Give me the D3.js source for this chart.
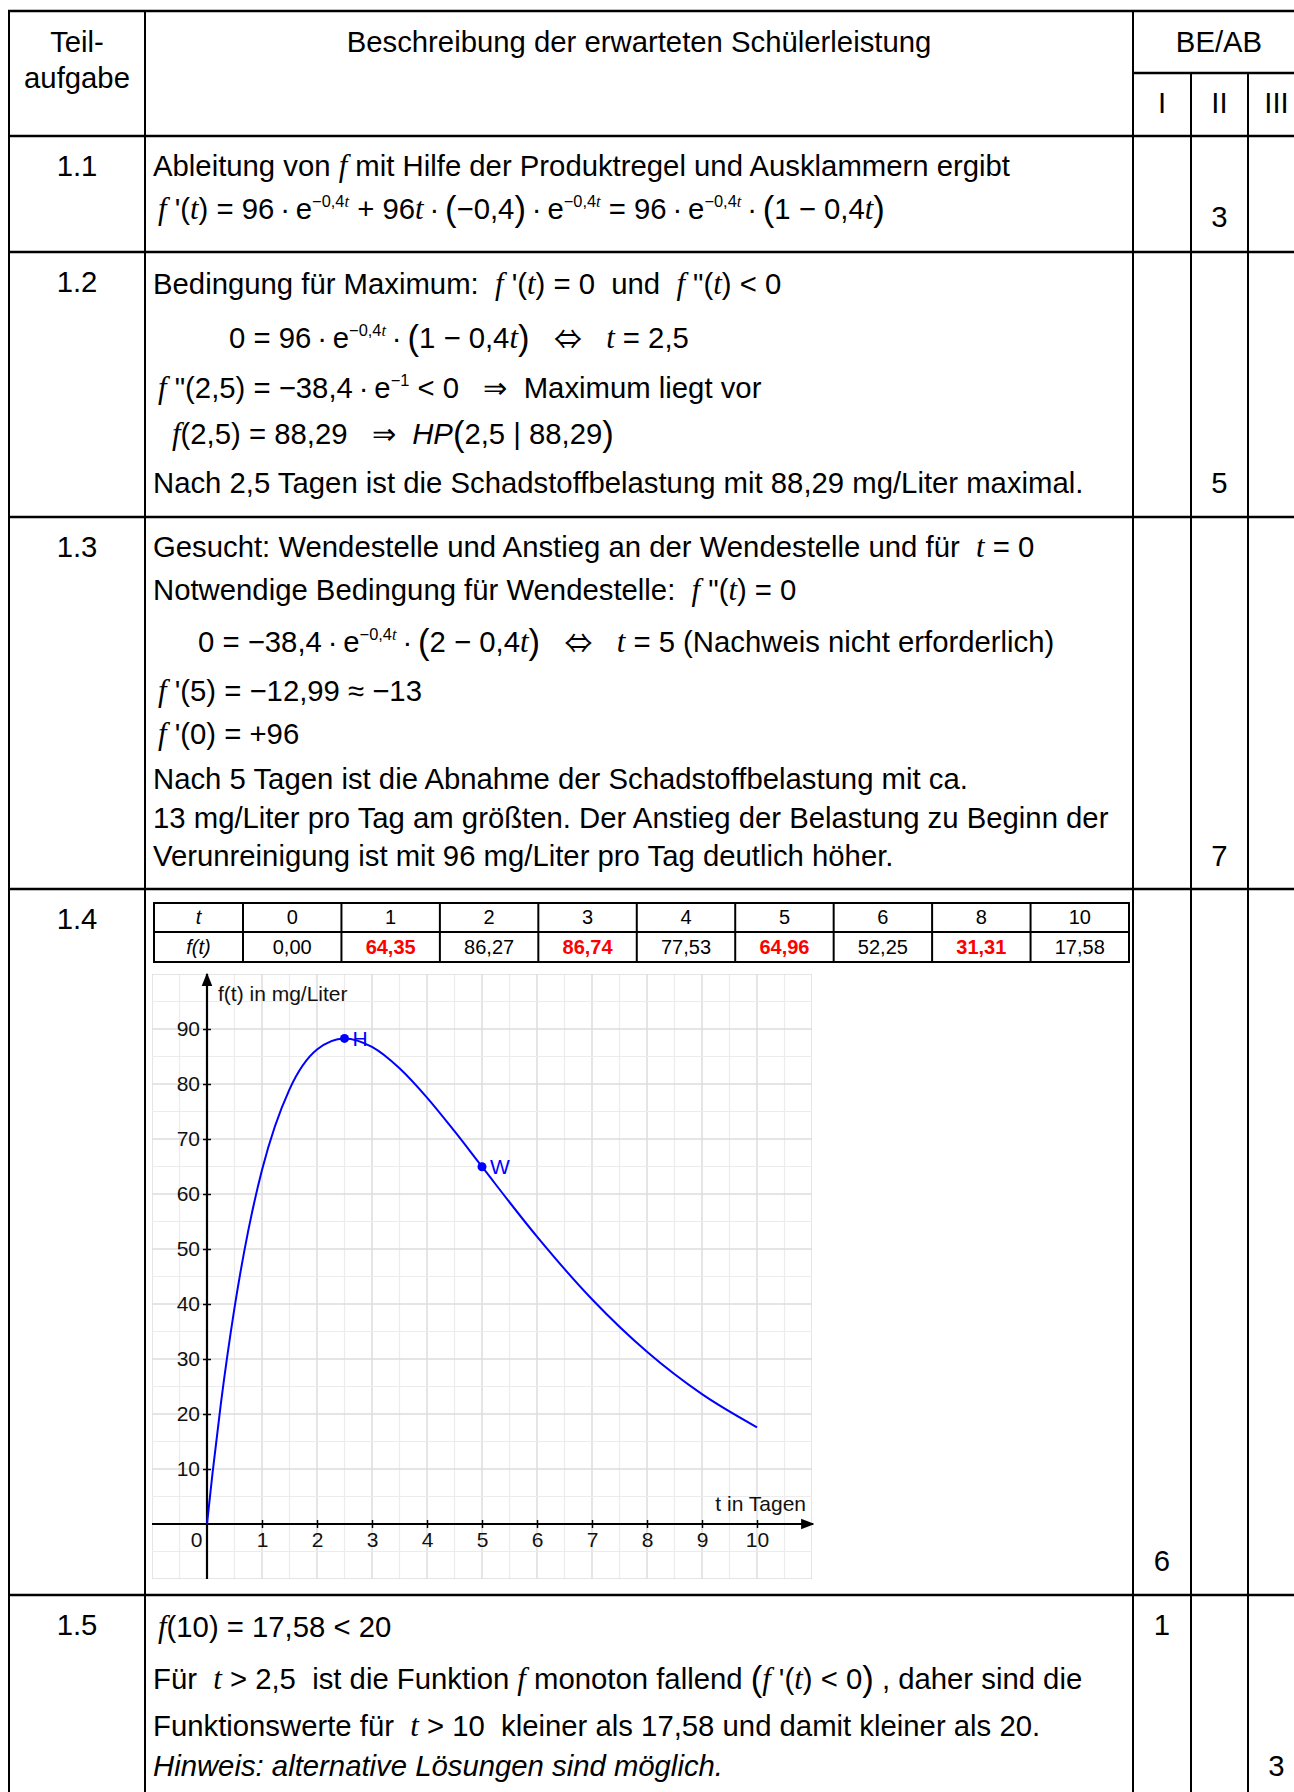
<!DOCTYPE html>
<html>
<head>
<meta charset="utf-8">
<script src="https://cdn.jsdelivr.net/npm/d3@7"></script>
<style>
  body { margin: 0; background: #fff; }
  svg { display: block; }
  text { font-family: "Liberation Sans", Arial, sans-serif; white-space: pre; }
</style>
</head>
<body>
<div id="page"></div>
<script>
// ---- data ----
const rowLabels = ["1.1", "1.2", "1.3", "1.4", "1.5"];
const levels = ["I", "II", "III"];
// BE points: [row, level index, value]
const points = [["1.1", 1, "3"], ["1.2", 1, "5"], ["1.3", 1, "7"], ["1.4", 0, "6"], ["1.5", 0, "1"], ["1.5", 2, "3"]];

// value table of row 1.4
const tableT = ["0", "1", "2", "3", "4", "5", "6", "8", "10"];
const tableF = ["0,00", "64,35", "86,27", "86,74", "77,53", "64,96", "52,25", "31,31", "17,58"];
const tableRed = [false, true, false, true, false, true, false, true, false];

// curve f(t) in mg/Liter
const curveT = [0, 0.1, 0.25, 0.5, 0.75, 1, 1.5, 2, 2.5, 3, 3.5, 4, 4.5, 5, 6, 7, 8, 9, 10];
const curveF = [0, 9.22, 21.72, 39.30, 53.34, 64.35, 79.03, 86.27, 88.29, 86.74, 82.86, 77.53, 71.41, 64.96, 52.25, 40.86, 31.31, 23.61, 17.58];
const specialNames = ["H", "W"];
const specialT = [2.5, 5];
const specialF = [88.29, 64.96];
const xTicks = [0, 1, 2, 3, 4, 5, 6, 7, 8, 9, 10];
const yTicks = [10, 20, 30, 40, 50, 60, 70, 80, 90];

// ---- text content (segments: [text, style]) ----
// styles: v = math variable, s = superscript, sv = superscript variable, p = big paren, I = italic, a = arrow
const D = "\u2009·\u2009";
const rowText = {
  "1.1": [
    [["Ableitung von "], ["f", "v"], [" mit Hilfe der Produktregel und Ausklammern ergibt"]],
    [["f", "v"], [" '("], ["t", "v"], [") = 96" + D + "e"], ["−0,4", "s"], ["t", "sv"], [" + 96"], ["t", "v"], [D], ["(", "p"], ["−0,4"], [")", "p"],
     [D + "e"], ["−0,4", "s"], ["t", "sv"], [" = 96" + D + "e"], ["−0,4", "s"], ["t", "sv"], [D], ["(", "p"], ["1 − 0,4"], ["t", "v"], [")", "p"]]
  ],
  "1.2": [
    [["Bedingung für Maximum:  "], ["f", "v"], [" '("], ["t", "v"], [") = 0  und  "], ["f", "v"], [" \"("], ["t", "v"], [") < 0"]],
    [["0 = 96" + D + "e"], ["−0,4", "s"], ["t", "sv"], [D], ["(", "p"], ["1 − 0,4"], ["t", "v"], [")", "p"], ["   "], ["⇔", "a"], ["   "], ["t", "v"], [" = 2,5"]],
    [["f", "v"], [" \"(2,5) = −38,4" + D + "e"], ["−1", "s"], [" < 0   ⇒  Maximum liegt vor"]],
    [["f", "v"], ["(2,5) = 88,29   ⇒  "], ["HP", "I"], ["(", "p"], ["2,5 | 88,29"], [")", "p"]],
    [["Nach 2,5 Tagen ist die Schadstoffbelastung mit 88,29 mg/Liter maximal."]]
  ],
  "1.3": [
    [["Gesucht: Wendestelle und Anstieg an der Wendestelle und für  "], ["t", "v"], [" = 0"]],
    [["Notwendige Bedingung für Wendestelle:  "], ["f", "v"], [" \"("], ["t", "v"], [") = 0"]],
    [["0 = −38,4" + D + "e"], ["−0,4", "s"], ["t", "sv"], [D], ["(", "p"], ["2 − 0,4"], ["t", "v"], [")", "p"], ["   "], ["⇔", "a"], ["   "], ["t", "v"], [" = 5 (Nachweis nicht erforderlich)"]],
    [["f", "v"], [" '(5) = −12,99 ≈ −13"]],
    [["f", "v"], [" '(0) = +96"]],
    [["Nach 5 Tagen ist die Abnahme der Schadstoffbelastung mit ca."]],
    [["13 mg/Liter pro Tag am größten. Der Anstieg der Belastung zu Beginn der"]],
    [["Verunreinigung ist mit 96 mg/Liter pro Tag deutlich höher."]]
  ],
  "1.5": [
    [["f", "v"], ["(10) = 17,58 < 20"]],
    [["Für  "], ["t", "v"], [" > 2,5  ist die Funktion "], ["f", "v"], [" monoton fallend "], ["(", "p"], ["f", "v"], [" '("], ["t", "v"], [") < 0"], [")", "p"], [" , daher sind die"]],
    [["Funktionswerte für  "], ["t", "v"], [" > 10  kleiner als 17,58 und damit kleiner als 20."]],
    [["Hinweis: alternative Lösungen sind möglich.", "I"]]
  ]
};

// ---- layout ----
const W = 1294, H = 1792, FS = 29.3;
const colX = [9, 145, 1133, 1191, 1248, 1305];
const rowY = [11, 136, 252, 517, 889, 1595, 1800];
const subY = 73;
const labelBase = { "1.1": 176, "1.2": 292, "1.3": 557, "1.4": 929, "1.5": 1635 };
const lineX = {
  "1.1": [153, 158],
  "1.2": [153, 229, 158, 172, 153],
  "1.3": [153, 153, 198, 158, 158, 153, 153, 153],
  "1.5": [158, 153, 153, 153]
};
const lineY = {
  "1.1": [176, 219],
  "1.2": [294, 348, 398, 444, 493],
  "1.3": [557, 600, 652, 701, 744, 789, 828, 866],
  "1.5": [1637, 1689, 1736, 1776]
};
const pointBase = { "1.1": 227, "1.2": 493, "1.3": 866, "1.4": 1571, "1.5": 1635 };
const lastBase = 1776;

const svg = d3.select("#page").append("svg")
  .attr("width", W).attr("height", H);

function drawLine(g, x, y, segs) {
  const t = g.append("text").attr("x", x).attr("y", y).attr("font-size", FS).attr("fill", "#000");
  let shift = 0;
  segs.forEach(([str, st = ""]) => {
    const sp = t.append("tspan").text(str);
    let target = 0;
    if (st === "s" || st === "sv") { target = -12; sp.attr("font-size", FS * 0.56); }
    if (st === "v" || st === "sv") sp.attr("font-family", "'Liberation Serif', 'Times New Roman', serif").attr("font-style", "italic");
    if (st === "v") sp.attr("font-size", FS * 1.05);
    if (st === "I") sp.attr("font-style", "italic");
    if (st === "a") { sp.attr("font-family", "'Noto Sans CJK JP', 'DejaVu Sans', sans-serif").attr("font-size", FS * 0.95); target = 1; }
    if (st === "p") { sp.attr("font-size", FS * 1.18); target = 2; }
    if (target !== shift) { sp.attr("dy", target - shift); shift = target; }
  });
}

// ---- main table text ----
const tg = svg.append("g");
const center = (a, b) => (a + b) / 2;
tg.append("text").attr("x", center(colX[0], colX[1])).attr("y", 52).attr("text-anchor", "middle").attr("font-size", FS).text("Teil-");
tg.append("text").attr("x", center(colX[0], colX[1])).attr("y", 88).attr("text-anchor", "middle").attr("font-size", FS).text("aufgabe");
tg.append("text").attr("x", center(colX[1], colX[2])).attr("y", 52).attr("text-anchor", "middle").attr("font-size", FS).text("Beschreibung der erwarteten Schülerleistung");
tg.append("text").attr("x", center(colX[2], colX[5])).attr("y", 52).attr("text-anchor", "middle").attr("font-size", FS).text("BE/AB");
levels.forEach((l, i) => {
  tg.append("text").attr("x", center(colX[2 + i], colX[3 + i])).attr("y", 113).attr("text-anchor", "middle").attr("font-size", FS).text(l);
});
rowLabels.forEach(r => {
  tg.append("text").attr("x", center(colX[0], colX[1])).attr("y", labelBase[r]).attr("text-anchor", "middle").attr("font-size", FS).text(r);
});
points.forEach(([r, li, v]) => {
  const y = (r === "1.5" && li === 2) ? lastBase : pointBase[r];
  tg.append("text").attr("x", center(colX[2 + li], colX[3 + li])).attr("y", y).attr("text-anchor", "middle").attr("font-size", FS).text(v);
});
Object.keys(rowText).forEach(r => {
  rowText[r].forEach((segs, i) => drawLine(tg, lineX[r][i], lineY[r][i], segs));
});

// ---- table grid ----
const lg = svg.append("g").attr("stroke", "#000");
rowY.slice(0, 6).forEach(y => lg.append("line").attr("x1", colX[0] - 1).attr("x2", colX[5]).attr("y1", y).attr("y2", y).attr("stroke-width", 2.5));
lg.append("line").attr("x1", colX[2]).attr("x2", colX[5]).attr("y1", subY).attr("y2", subY).attr("stroke-width", 2.5);
[0, 1, 2].forEach(i => lg.append("line").attr("x1", colX[i]).attr("x2", colX[i]).attr("y1", rowY[0]).attr("y2", H).attr("stroke-width", 2));
[3, 4, 5].forEach(i => lg.append("line").attr("x1", colX[i]).attr("x2", colX[i]).attr("y1", subY).attr("y2", H).attr("stroke-width", 2));

// ---- value table (row 1.4) ----
const vt = svg.append("g");
const vtLeft = 154, vtFirst = 243, vtRight = 1129, vtTop = 903, vtMid = 932, vtBot = 962;
const band = d3.scaleBand().domain(d3.range(tableT.length)).range([vtFirst, vtRight]);
vt.append("rect").attr("x", vtLeft).attr("y", vtTop).attr("width", vtRight - vtLeft).attr("height", vtBot - vtTop)
  .attr("fill", "none").attr("stroke", "#000").attr("stroke-width", 2);
vt.append("line").attr("x1", vtLeft).attr("x2", vtRight).attr("y1", vtMid).attr("y2", vtMid).attr("stroke", "#000").attr("stroke-width", 2);
vt.selectAll("line.c").data(tableT).enter().append("line").attr("class", "c")
  .attr("x1", (d, i) => band(i)).attr("x2", (d, i) => band(i)).attr("y1", vtTop).attr("y2", vtBot)
  .attr("stroke", "#000").attr("stroke-width", 2);
vt.append("text").attr("x", center(vtLeft, vtFirst)).attr("y", 924).attr("text-anchor", "middle").attr("font-size", 20).attr("font-style", "italic").text("t");
vt.append("text").attr("x", center(vtLeft, vtFirst)).attr("y", 954).attr("text-anchor", "middle").attr("font-size", 20).attr("font-style", "italic").text("f(t)");
vt.selectAll("text.t").data(tableT).enter().append("text").attr("class", "t")
  .attr("x", (d, i) => band(i) + band.bandwidth() / 2).attr("y", 924).attr("text-anchor", "middle").attr("font-size", 20).text(d => d);
vt.selectAll("text.f").data(tableF).enter().append("text").attr("class", "f")
  .attr("x", (d, i) => band(i) + band.bandwidth() / 2).attr("y", 954).attr("text-anchor", "middle").attr("font-size", 20)
  .attr("fill", (d, i) => tableRed[i] ? "#ff0000" : "#000")
  .attr("font-weight", (d, i) => tableRed[i] ? "bold" : "normal")
  .text(d => d);

// ---- graph ----
const x = d3.scaleLinear().domain([-1, 11]).range([152, 812]);
const y = d3.scaleLinear().domain([-10, 100]).range([1579, 974]);
const gr = svg.append("g");
gr.append("clipPath").attr("id", "clip").append("rect")
  .attr("x", x(-1)).attr("y", y(100)).attr("width", x(11) - x(-1)).attr("height", y(-10) - y(100));
const grid = gr.append("g").attr("clip-path", "url(#clip)");
grid.append("rect").attr("x", x(-1)).attr("y", y(100)).attr("width", x(11) - x(-1)).attr("height", y(-10) - y(100)).attr("fill", "#fff");
grid.selectAll("line.gx").data(x.ticks(24)).enter().append("line").attr("class", "gx")
  .attr("x1", d => x(d)).attr("x2", d => x(d)).attr("y1", y(100)).attr("y2", y(-10))
  .attr("stroke", d => Number.isInteger(d) ? "#dcdcdc" : "#ececec").attr("stroke-width", d => Number.isInteger(d) ? 1.5 : 1.2);
grid.selectAll("line.gy").data(y.ticks(22)).enter().append("line").attr("class", "gy")
  .attr("y1", d => y(d)).attr("y2", d => y(d)).attr("x1", x(-1)).attr("x2", x(11))
  .attr("stroke", d => d % 10 === 0 ? "#dcdcdc" : "#ececec").attr("stroke-width", d => d % 10 === 0 ? 1.5 : 1.2);

// axes
const defs = svg.append("defs");
defs.append("marker").attr("id", "arr").attr("viewBox", "0 0 10 10").attr("refX", 9).attr("refY", 5)
  .attr("markerWidth", 6).attr("markerHeight", 6).attr("orient", "auto").attr("markerUnits", "strokeWidth")
  .append("path").attr("d", "M0,1 L10,5 L0,9 Z").attr("fill", "#000");

const xAxis = gr.append("g").attr("transform", `translate(0,${y(0)})`)
  .call(d3.axisBottom(x).tickValues(xTicks).tickSize(4).tickSizeOuter(0).tickFormat(d3.format("d")));
xAxis.select(".domain").remove();
xAxis.selectAll(".tick line").attr("y1", -4).attr("stroke", "#000").attr("stroke-width", 1.5);
xAxis.selectAll(".tick text").attr("y", 23).attr("dy", null).attr("font-size", 21).attr("font-family", "'Liberation Sans', Arial, sans-serif").attr("fill", "#111");
xAxis.selectAll(".tick").filter(d => d === 0).select("line").remove();
xAxis.selectAll(".tick").filter(d => d === 0).select("text").attr("x", -11);

const yAxis = gr.append("g").attr("transform", `translate(${x(0)},0)`)
  .call(d3.axisLeft(y).tickValues(yTicks).tickSize(4).tickSizeOuter(0));
yAxis.select(".domain").remove();
yAxis.selectAll(".tick line").attr("x1", 4).attr("stroke", "#000").attr("stroke-width", 1.5);
yAxis.selectAll(".tick text").attr("x", -7).attr("font-size", 21).attr("font-family", "'Liberation Sans', Arial, sans-serif").attr("fill", "#111");

gr.append("line").attr("x1", x(-1)).attr("x2", x(11) + 1).attr("y1", y(0)).attr("y2", y(0))
  .attr("stroke", "#000").attr("stroke-width", 2.2).attr("marker-end", "url(#arr)");
gr.append("line").attr("x1", x(0)).attr("x2", x(0)).attr("y1", y(-10)).attr("y2", y(100))
  .attr("stroke", "#000").attr("stroke-width", 2.2).attr("marker-end", "url(#arr)");

gr.append("text").attr("x", x(0) + 11).attr("y", y(100) + 27).attr("font-size", 21).attr("fill", "#111").text("f(t) in mg/Liter");
gr.append("text").attr("x", x(11) - 6).attr("y", y(0) - 13).attr("text-anchor", "end").attr("font-size", 21).attr("fill", "#111").text("t in Tagen");

// curve
const curveData = curveT.map((t, i) => [t, curveF[i]]);
const line = d3.line().x(d => x(d[0])).y(d => y(d[1])).curve(d3.curveMonotoneX);
gr.append("path").datum(curveData).attr("d", line).attr("fill", "none").attr("stroke", "#0000ff").attr("stroke-width", 2);

// special points
const sp = specialNames.map((n, i) => ({ n, t: specialT[i], f: specialF[i] }));
gr.selectAll("circle.sp").data(sp).enter().append("circle").attr("class", "sp")
  .attr("cx", d => x(d.t)).attr("cy", d => y(d.f)).attr("r", 4.5).attr("fill", "#0000ff");
gr.selectAll("text.sp").data(sp).enter().append("text").attr("class", "sp")
  .attr("x", d => x(d.t) + 8).attr("y", d => y(d.f) + 7.5).attr("font-size", 21).attr("fill", "#0000ff").text(d => d.n);
</script>
</body>
</html>
